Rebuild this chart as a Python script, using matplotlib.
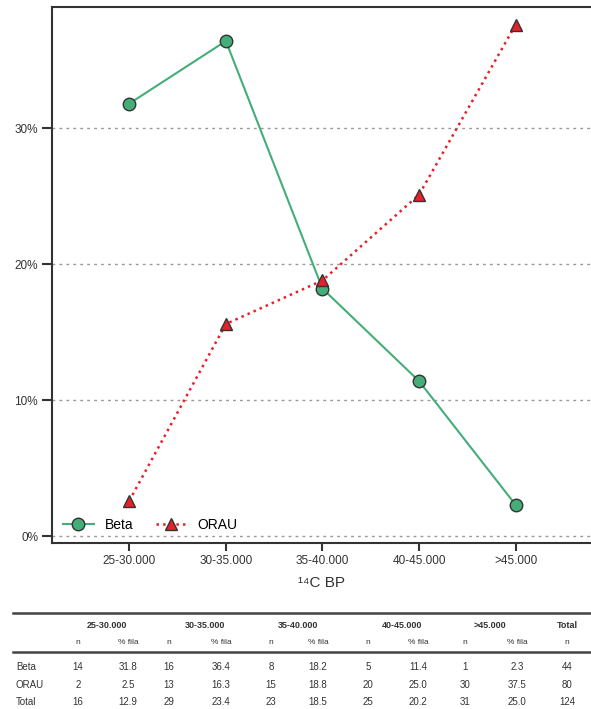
import matplotlib.pyplot as plt
from matplotlib.lines import Line2D

plt.rcParams['font.family'] = ['Liberation Sans', 'DejaVu Sans']

# chart data (as drawn in the plot)
age_bins = ['25-30.000', '30-35.000', '35-40.000', '40-45.000', '>45.000']
beta_pct = [31.8, 36.4, 18.2, 11.4, 2.3]
orau_plot = [2.6, 15.6, 18.8, 25.1, 37.6]
y_ticks = [0, 10, 20, 30]

# table data
row_labels = ['Beta', 'ORAU', 'Total']
beta_n = [14, 16, 8, 5, 1]
orau_n = [2, 13, 15, 20, 30]
total_n = [16, 29, 23, 25, 31]
orau_pct = [2.5, 16.3, 18.8, 25.0, 37.5]
total_pct = [12.9, 23.4, 18.5, 20.2, 25.0]
row_totals = [44, 80, 124]

W, H = 591, 709
fig = plt.figure(figsize=(W / 100, H / 100), dpi=100)
ax = fig.add_axes([52 / W, 1 - 543 / H, 1 - 52 / W, (543 - 7) / H])

green = '#45ad78'
red = '#e8202a'
x = list(range(len(age_bins)))
ax.plot(x, beta_pct, '-', color=green, lw=1.5, marker='o', ms=9,
        mfc=green, mec='#333333', mew=1.0, label='Beta', zorder=3)
ax.plot(x, orau_plot, ':', color=red, lw=1.8, marker='^', ms=9,
        mfc=red, mec='#333333', mew=1.0, label='ORAU', zorder=3)

ax.set_xlim(-0.8, 4.78)
ax.set_ylim(-0.5, 38.9)
ax.set_xticks(x)
ax.set_xticklabels(age_bins)
ax.set_yticks(y_ticks)
ax.set_yticklabels([f'{v}%' for v in y_ticks])
ax.tick_params(axis='both', labelsize=8.5, colors='#333333', width=1.5,
               length=6, direction='out')
ax.tick_params(axis='x', pad=3)
ax.tick_params(axis='y', length=7, pad=3)
ax.yaxis.grid(True, linestyle=(0, (2, 3)), color='#999999', lw=1)
ax.set_axisbelow(True)
for s in ['left', 'bottom', 'top']:
    ax.spines[s].set_linewidth(1.5)
    ax.spines[s].set_color('#333333')
ax.spines['right'].set_visible(False)
ax.set_xlabel('¹⁴C BP', fontsize=11, color='#333333', labelpad=6)

ax.legend(loc='lower left', bbox_to_anchor=(0.0, 0.0), ncol=2, frameon=False,
          fontsize=10, handlelength=2.2, columnspacing=1.6,
          handletextpad=0.8, borderaxespad=0.4)

# table below the chart
def fx(px):
    return px / W

def fy(py):
    return 1 - py / H

for yl in [613, 652]:
    fig.add_artist(Line2D([fx(13), fx(591)], [fy(yl), fy(yl)],
                          color='#444444', lw=1.8))

n_x = [78, 169, 271, 368, 465]
p_x = [128, 221, 318, 418, 517]
head_x = [107, 205, 298, 402, 490]
tot_x = 567
tc = '#333333'

for hx, lab in zip(head_x, age_bins):
    fig.text(fx(hx), fy(626), lab, ha='center', va='center', fontsize=6.5,
             fontweight='bold', color=tc)
fig.text(fx(tot_x), fy(626), 'Total', ha='center', va='center', fontsize=6.5,
         fontweight='bold', color=tc)
for nx, px in zip(n_x, p_x):
    fig.text(fx(nx), fy(643), 'n', ha='center', va='center', fontsize=6, color=tc)
    fig.text(fx(px), fy(643), '% fila', ha='center', va='center', fontsize=6, color=tc)
fig.text(fx(tot_x), fy(643), 'n', ha='center', va='center', fontsize=6, color=tc)

rows_n = [beta_n, orau_n, total_n]
rows_p = [beta_pct, orau_pct, total_pct]
for ry, lab, ns, ps, tot in zip([667, 685, 702], row_labels, rows_n, rows_p, row_totals):
    fig.text(fx(16), fy(ry), lab, ha='left', va='center', fontsize=7, color=tc)
    for nx, px, n, p in zip(n_x, p_x, ns, ps):
        fig.text(fx(nx), fy(ry), str(n), ha='center', va='center', fontsize=7, color=tc)
        fig.text(fx(px), fy(ry), f'{p:.1f}', ha='center', va='center', fontsize=7, color=tc)
    fig.text(fx(tot_x), fy(ry), str(tot), ha='center', va='center', fontsize=7, color=tc)

fig.savefig('out.png', dpi=100)
